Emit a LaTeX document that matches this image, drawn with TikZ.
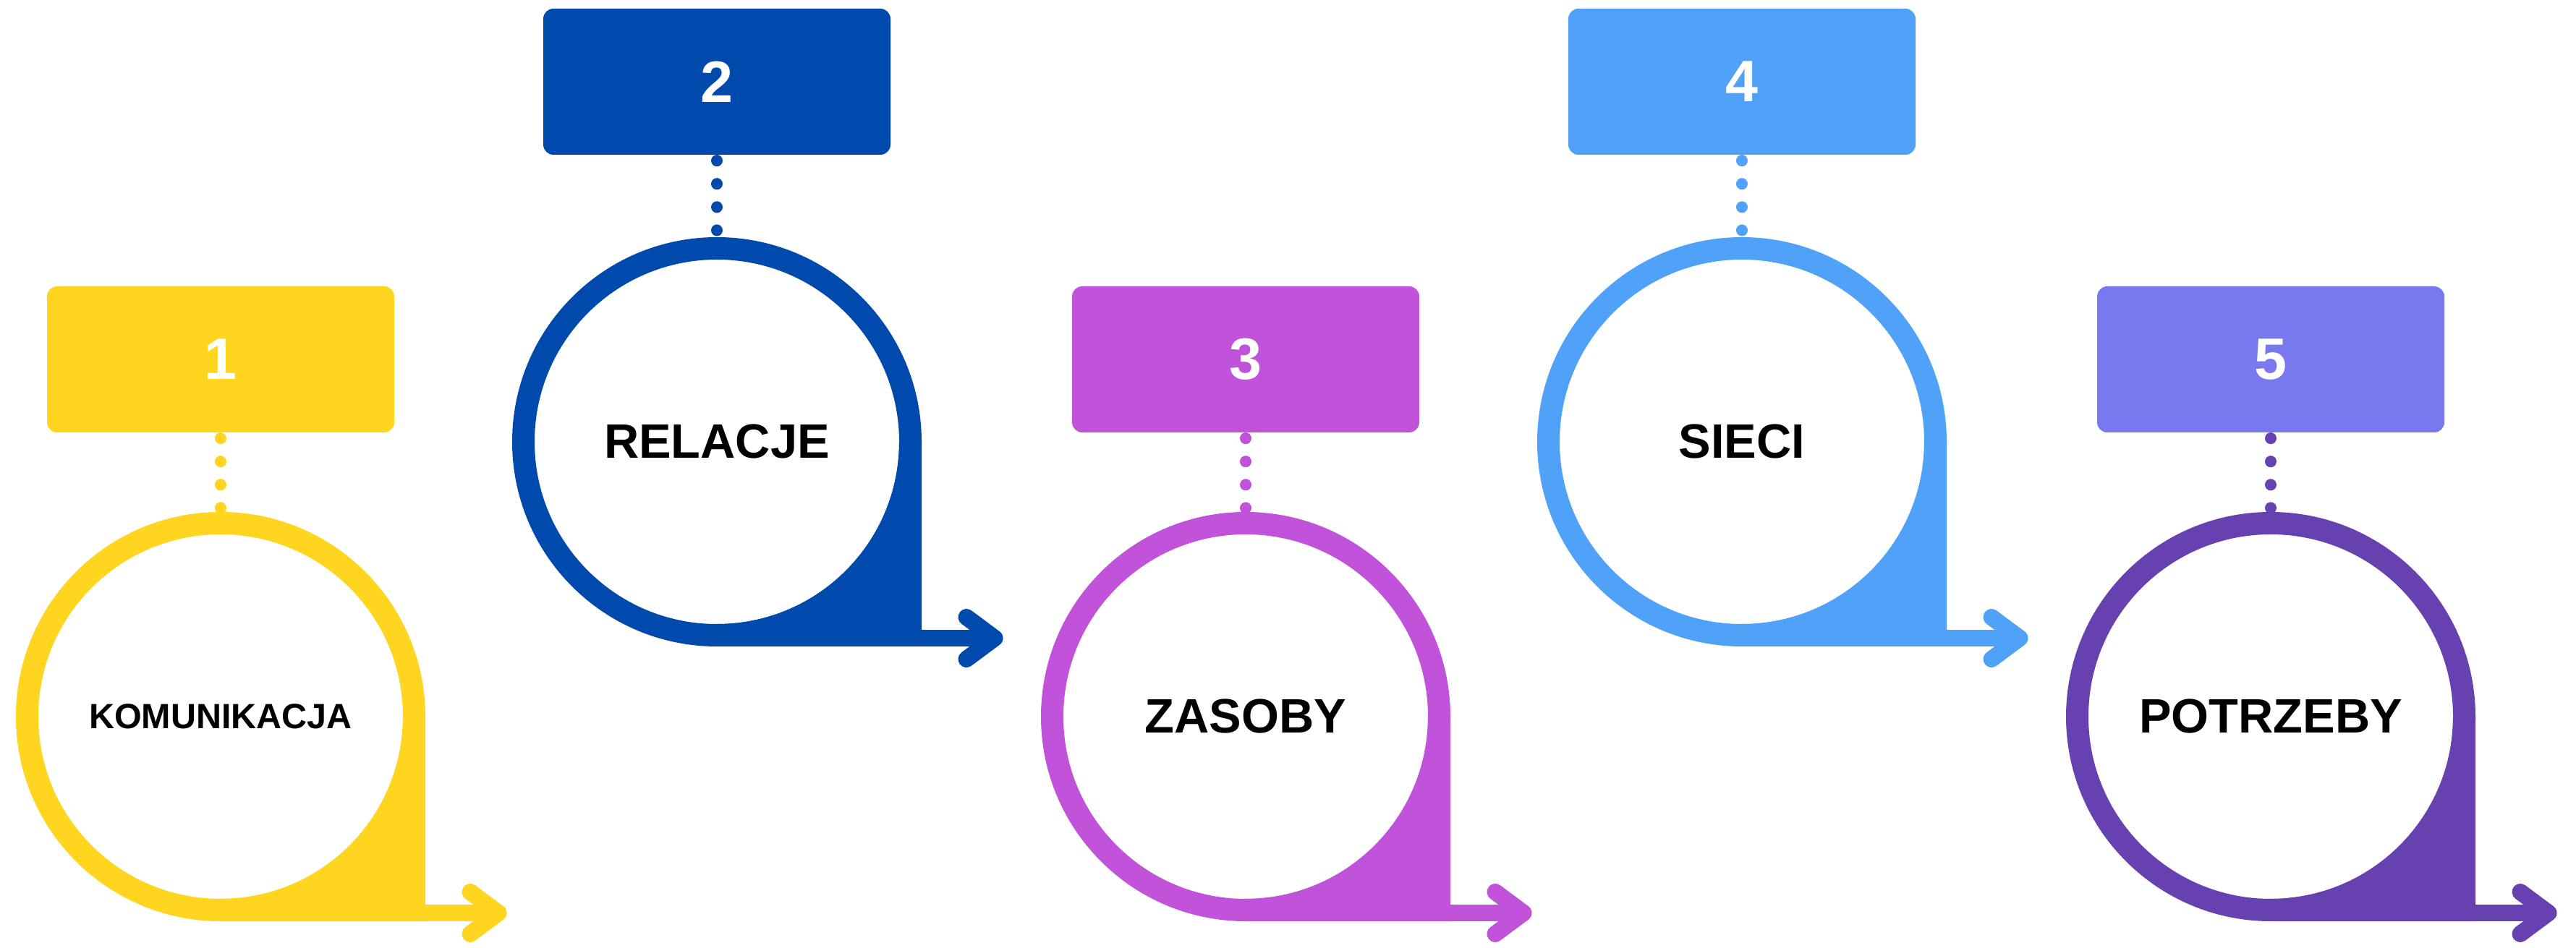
\documentclass[tikz,border=0pt]{standalone}
\usepackage{fontspec}
\setmainfont{Liberation Sans}
\usetikzlibrary{positioning,calc}
\definecolor{kolyellow}{HTML}{FFD520}
\definecolor{kolnavy}{HTML}{004AAD}
\definecolor{kolmagenta}{HTML}{C152DA}
\definecolor{kolsky}{HTML}{4FA2F7}
\definecolor{kollavender}{HTML}{7879EE}
\definecolor{kolviolet}{HTML}{6741B0}

\tikzset{
  numbox/.style={fill=#1, rounded corners=1.4mm, minimum width=48mm, minimum height=20.2mm,
    outer sep=0pt, text=white, font=\bfseries\fontsize{23}{26}\selectfont},
  ring/.style={circle, draw=#1, line width=3.1mm, minimum size=53.5mm, inner sep=0pt,
    outer sep=1.55mm, font=\bfseries\fontsize{19}{22}\selectfont},
  dotline/.style={draw=#1, line width=1.6mm, line cap=round,
    dash pattern=on 0.01mm off 3.2mm, dash phase=2.4mm},
  ringtail/.style={fill=#1},
  arrowbar/.style={draw=#1, line width=2.3mm},
  arrowhd/.style={draw=#1, line width=2.3mm, line cap=round, line join=round},
}

\begin{document}
\begin{tikzpicture}
  \useasboundingbox (0,0) rectangle (35.61,13.10);

  % 1 -- low
  \node[numbox=kolyellow] (b1) at (3.05,8.13) {1};
  \node[ring=kolyellow, below=11mm of b1, font=\bfseries\fontsize{13.8}{16}\selectfont] (r1) {KOMUNIKACJA};
  \draw[dotline=kolyellow] (b1) -- (r1);
  \fill[ringtail=kolyellow] (r1.east) |- (r1.south) -- ++(0,0.31) arc[start angle=270, end angle=360, radius=2.52] -- cycle;
  \draw[arrowbar=kolyellow] ($(r1.east |- r1.south)+(0,0.115)$) -- ++(1.01,0) coordinate (a1);
  \draw[arrowhd=kolyellow] ($(a1)+(-0.39,0.29)$) -- (a1) -- ($(a1)+(-0.39,-0.29)$);

  % 2 -- high
  \node[numbox=kolnavy] (b2) at (9.91,11.97) {2};
  \node[ring=kolnavy, below=11.4mm of b2] (r2) {RELACJE};
  \draw[dotline=kolnavy] (b2) -- (r2);
  \fill[ringtail=kolnavy] (r2.east) |- (r2.south) -- ++(0,0.31) arc[start angle=270, end angle=360, radius=2.52] -- cycle;
  \draw[arrowbar=kolnavy] ($(r2.east |- r2.south)+(0,0.115)$) -- ++(1.01,0) coordinate (a2);
  \draw[arrowhd=kolnavy] ($(a2)+(-0.39,0.29)$) -- (a2) -- ($(a2)+(-0.39,-0.29)$);

  % 3 -- low
  \node[numbox=kolmagenta] (b3) at (17.22,8.13) {3};
  \node[ring=kolmagenta, below=11mm of b3] (r3) {ZASOBY};
  \draw[dotline=kolmagenta] (b3) -- (r3);
  \fill[ringtail=kolmagenta] (r3.east) |- (r3.south) -- ++(0,0.31) arc[start angle=270, end angle=360, radius=2.52] -- cycle;
  \draw[arrowbar=kolmagenta] ($(r3.east |- r3.south)+(0,0.115)$) -- ++(1.01,0) coordinate (a3);
  \draw[arrowhd=kolmagenta] ($(a3)+(-0.39,0.29)$) -- (a3) -- ($(a3)+(-0.39,-0.29)$);

  % 4 -- high
  \node[numbox=kolsky] (b4) at (24.08,11.97) {4};
  \node[ring=kolsky, below=11.4mm of b4] (r4) {SIECI};
  \draw[dotline=kolsky] (b4) -- (r4);
  \fill[ringtail=kolsky] (r4.east) |- (r4.south) -- ++(0,0.31) arc[start angle=270, end angle=360, radius=2.52] -- cycle;
  \draw[arrowbar=kolsky] ($(r4.east |- r4.south)+(0,0.115)$) -- ++(1.01,0) coordinate (a4);
  \draw[arrowhd=kolsky] ($(a4)+(-0.39,0.29)$) -- (a4) -- ($(a4)+(-0.39,-0.29)$);

  % 5 -- low, box lighter than the ring
  \node[numbox=kollavender] (b5) at (31.39,8.13) {5};
  \node[ring=kolviolet, below=11mm of b5] (r5) {POTRZEBY};
  \draw[dotline=kolviolet] (b5) -- (r5);
  \fill[ringtail=kolviolet] (r5.east) |- (r5.south) -- ++(0,0.31) arc[start angle=270, end angle=360, radius=2.52] -- cycle;
  \draw[arrowbar=kolviolet] ($(r5.east |- r5.south)+(0,0.115)$) -- ++(1.01,0) coordinate (a5);
  \draw[arrowhd=kolviolet] ($(a5)+(-0.39,0.29)$) -- (a5) -- ($(a5)+(-0.39,-0.29)$);
\end{tikzpicture}
\end{document}
